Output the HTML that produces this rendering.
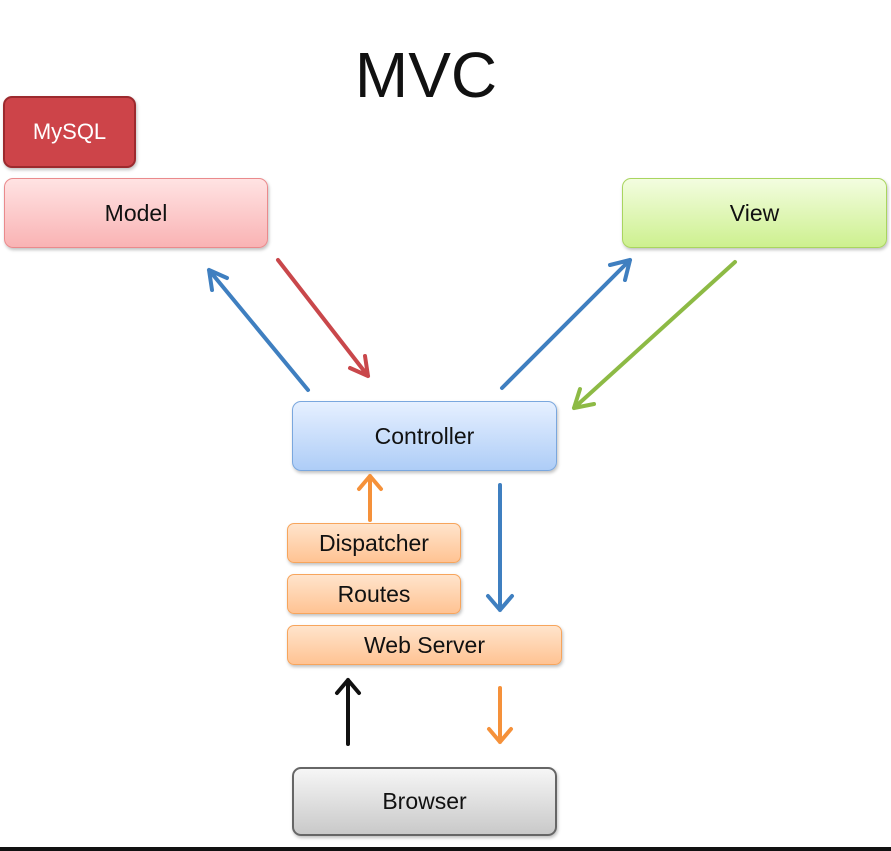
<!DOCTYPE html>
<html><head><style>
body{margin:0;width:891px;height:851px;background:#fff;position:relative;overflow:hidden;font-family:"Liberation Sans",sans-serif}
.b{position:absolute;box-sizing:border-box;border-radius:9px;display:flex;align-items:center;justify-content:center;font-size:23px;color:#111;box-shadow:1px 2px 3px rgba(0,0,0,.25)}
.o{background:linear-gradient(#ffe4cc,#ffc393);border:1.5px solid #f7a55c;border-radius:7px}
</style></head><body>
<div style="position:absolute;left:0;width:852px;top:38px;text-align:center;font-size:64px;color:#111">MVC</div>
<div class="b" style="left:3px;top:96px;width:133px;height:72px;background:#cd4449;border:2px solid #9c2a2e;color:#fff;font-size:22px">MySQL</div>
<div class="b" style="left:4px;top:178px;width:264px;height:70px;background:linear-gradient(#ffe3e3,#f9b3b4);border:1.5px solid #ea8a8c">Model</div>
<div class="b" style="left:622px;top:178px;width:265px;height:70px;background:linear-gradient(#f3fde0,#cdf08f);border:1.5px solid #a9d55f">View</div>
<div class="b" style="left:292px;top:401px;width:265px;height:70px;background:linear-gradient(#e6f0ff,#aecdf7);border:1.5px solid #7aa7de">Controller</div>
<div class="b o" style="left:287px;top:523px;width:174px;height:40px">Dispatcher</div>
<div class="b o" style="left:287px;top:574px;width:174px;height:40px">Routes</div>
<div class="b o" style="left:287px;top:625px;width:275px;height:40px">Web Server</div>
<div class="b" style="left:292px;top:767px;width:265px;height:69px;background:linear-gradient(#f6f6f6,#c9c9c9);border:2px solid #666">Browser</div>
<div style="position:absolute;left:0;top:847px;width:891px;height:4px;background:#111"></div>
<svg width="891" height="851" style="position:absolute;left:0;top:0" fill="none" stroke-width="4" stroke-linecap="round" stroke-linejoin="round">
<g stroke="#3f7fc0"><path d="M308 390L209 270M209 270l3 20M209 270l18 8"/>
<path d="M502 388L630 260M630 260l-20 5M630 260l-5 20"/>
<path d="M500 485V610M500 610l-12-14M500 610l12-14"/></g>
<g stroke="#c9474b"><path d="M278 260L368 376M368 376l-3-20M368 376l-18-8"/></g>
<g stroke="#8dba45"><path d="M735 262L574 408M574 408l20-4M574 408l6-19"/></g>
<g stroke="#f5913a"><path d="M370 520V476M370 476l-11 13M370 476l11 13"/>
<path d="M500 688V742M500 742l-11-13M500 742l11-13"/></g>
<g stroke="#111"><path d="M348 744V680M348 680l-11 13M348 680l11 13"/></g>
</svg>
</body></html>
